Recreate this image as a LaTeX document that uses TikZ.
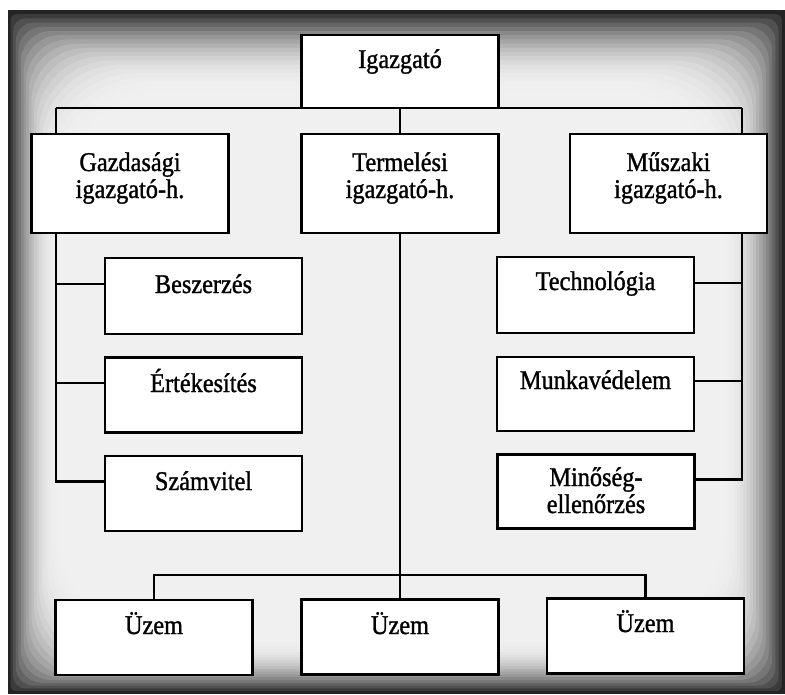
\documentclass[tikz,border=0pt]{standalone}
\usepackage{fontspec}
\setmainfont{Liberation Serif}
\newfontfamily\scanfont{Liberation Serif}[FakeStretch=0.9, FakeBold=1.2]

\tikzset{
    unit/.style={draw, line width=2.8pt, fill=white, minimum width=197pt, inner sep=0pt},
    link/.style={line width=2.3pt},
    txt/.style={font=\scanfont\fontsize{27}{27}\selectfont, align=center, inner sep=0pt, anchor=base}
}

\begin{document}
\begin{tikzpicture}[x=1pt,y=-1pt]
    \useasboundingbox (0,0) rectangle (785,694);

    % scanned page
    \fill[white] (0,0) rectangle (785,694);
    \foreach \i in {0,...,19}{
        \pgfmathsetmacro\shade{6+80*(1-\i/19)^2.2}
        \fill[black!\shade, rounded corners=\i*6pt] (8+2.6*\i,10+4.2*\i) rectangle (785-3.2*\i,694-2.8*\i);
    }

    % boxes
    \node[unit, minimum height=73pt] (dir) at (400,71.5) {};
    \node[unit, minimum height=99pt] (gazd) at (130,183.5) {};
    \node[unit, minimum height=99pt] (term) at (400,183.5) {};
    \node[unit, minimum height=99pt] (musz) at (668.5,183.5) {};

    \node[unit, minimum height=76pt] (besz) at (203.5,296) {};
    \node[unit, minimum height=75pt] (ertek) at (203.5,395) {};
    \node[unit, minimum height=75pt] (szamv) at (203.5,493.5) {};

    \node[unit, minimum height=76pt] (tech) at (595.5,295) {};
    \node[unit, minimum height=74pt] (munka) at (595.5,394) {};
    \node[unit, minimum height=74pt] (minos) at (596,491.5) {};

    \node[unit, minimum height=75pt] (uz1) at (154,637.5) {};
    \node[unit, minimum height=75pt] (uz2) at (400,637) {};
    \node[unit, minimum height=75pt] (uz3) at (645.5,636) {};

    % texts
    \node[txt] (dir-t) at (400,68) {Igazgató};
    \node[txt] (gazd-t) at (130,198) {Gazdasági\\igazgató-h.};
    \node[txt] (term-t) at (400,198) {Termelési\\igazgató-h.};
    \node[txt] (musz-t) at (668.5,198) {Műszaki\\igazgató-h.};
    \node[txt] (besz-t) at (203.5,293) {Beszerzés};
    \node[txt] (ertek-t) at (203.5,392) {Értékesítés};
    \node[txt] (szamv-t) at (203.5,490) {Számvitel};
    \node[txt] (tech-t) at (595.5,290) {Technológia};
    \node[txt] (munka-t) at (595.5,389) {Munkavédelem};
    \node[txt] (minos-t) at (596,513) {Minőség-\\ellenőrzés};
    \node[txt] (uz1-t) at (154,634) {Üzem};
    \node[txt] (uz2-t) at (400,634) {Üzem};
    \node[txt] (uz3-t) at (645.5,632) {Üzem};

    % top bus
    \coordinate (ltop) at (56,108);
    \coordinate (rtop) at (742,108);
    \draw[link] (ltop) -- (rtop);
    \draw[link] (ltop) -- (ltop |- gazd.north);
    \draw[link] (dir.south) -- (term.north);
    \draw[link] (rtop) -- (rtop |- musz.north);

    % left column
    \coordinate (besz-in) at ([yshift=12pt]besz.west);
    \coordinate (ertek-in) at ([yshift=12pt]ertek.west);
    \coordinate (szamv-in) at ([yshift=12pt]szamv.west);
    \draw[link] (ltop |- gazd.south) |- (szamv-in);
    \draw[link] (besz-in) -- (besz-in -| ltop);
    \draw[link] (ertek-in) -- (ertek-in -| ltop);

    % right column
    \coordinate (tech-in) at ([yshift=12pt]tech.east);
    \coordinate (munka-in) at ([yshift=13pt]munka.east);
    \coordinate (minos-in) at ([yshift=12pt]minos.east);
    \draw[link] (rtop |- musz.south) |- (minos-in);
    \draw[link] (tech-in) -- (tech-in -| rtop);
    \draw[link] (munka-in) -- (munka-in -| rtop);

    % plants
    \coordinate (bus) at (400,575);
    \draw[link] (term.south) -- (uz2.north);
    \draw[link] (uz1.north) |- (bus) -| (uz3.north);
\end{tikzpicture}
\end{document}
